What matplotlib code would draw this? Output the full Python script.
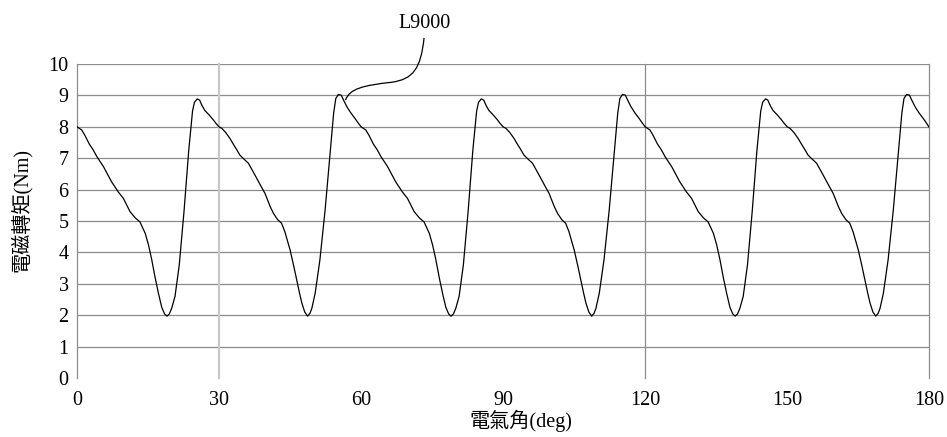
import matplotlib
matplotlib.use("Agg")
import matplotlib.pyplot as plt
from matplotlib.path import Path
from matplotlib.patches import PathPatch

plt.rcParams['font.family'] = ['Liberation Serif', 'Noto Sans CJK TC']

# electrical angle (deg) and torque (Nm)
angle_deg = [
    0.0, 1.0, 1.7, 2.6, 3.4, 4.2, 5.6, 7.3, 8.7, 9.8, 11.2, 12.3, 13.3, 14.4, 15.1, 15.8, 16.5, 17.2,
    17.9, 18.5, 19.0, 19.5, 20.0, 20.7, 21.6, 22.6, 23.6, 24.4, 24.8, 25.4, 25.9, 26.4, 27.0, 27.9, 28.8, 29.4,
    30.0, 30.6, 31.4, 32.3, 33.0, 33.7, 34.4, 35.2, 36.2, 37.6, 38.6, 39.7, 40.8, 41.5, 42.4, 43.2, 43.9, 45.0,
    45.8, 46.4, 47.0, 47.5, 48.1, 48.7, 49.2, 49.6, 50.3, 51.3, 52.4, 53.45, 54.2, 54.65, 55.2, 55.8, 56.3, 57.0,
    57.8, 58.7, 59.4,
    60.0, 61.0, 61.7, 62.6, 63.4, 64.2, 65.6, 67.3, 68.7, 69.8, 71.2, 72.3, 73.3, 74.4, 75.1, 75.8, 76.5, 77.2,
    77.9, 78.5, 79.0, 79.5, 80.0, 80.7, 81.6, 82.6, 83.6, 84.4, 84.8, 85.4, 85.9, 86.4, 87.0, 87.9, 88.8, 89.4,
    90.0, 90.6, 91.4, 92.3, 93.0, 93.7, 94.4, 95.2, 96.2, 97.6, 98.6, 99.7, 100.8, 101.5, 102.4, 103.2, 103.9, 105.0,
    105.8, 106.4, 107.0, 107.5, 108.1, 108.7, 109.2, 109.6, 110.3, 111.3, 112.4, 113.45, 114.2, 114.65, 115.2, 115.8,
    116.3, 117.0, 117.8, 118.7, 119.4,
    120.0, 121.0, 121.7, 122.6, 123.4, 124.2, 125.6, 127.3, 128.7, 129.8, 131.2, 132.3, 133.3, 134.4, 135.1, 135.8,
    136.5, 137.2, 137.9, 138.5, 139.0, 139.5, 140.0, 140.7, 141.6, 142.6, 143.6, 144.4, 144.8, 145.4, 145.9, 146.4,
    147.0, 147.9, 148.8, 149.4,
    150.0, 150.6, 151.4, 152.3, 153.0, 153.7, 154.4, 155.2, 156.2, 157.6, 158.6, 159.7, 160.8, 161.5, 162.4, 163.2,
    163.9, 165.0, 165.8, 166.4, 167.0, 167.5, 168.1, 168.7, 169.2, 169.6, 170.3, 171.3, 172.4, 173.45, 174.2, 174.65,
    175.2, 175.8, 176.3, 177.0, 177.8, 178.7, 179.4, 180.0,
]
torque_nm = [
    8.00, 7.90, 7.72, 7.45, 7.27, 7.05, 6.73, 6.25, 5.93, 5.72, 5.30, 5.10, 4.97, 4.61, 4.24, 3.76, 3.20, 2.70,
    2.25, 2.04, 1.97, 2.04, 2.22, 2.60, 3.60, 5.30, 7.25, 8.50, 8.78, 8.89, 8.85, 8.68, 8.52, 8.38, 8.22, 8.10,
    8.00, 7.95, 7.82, 7.63, 7.45, 7.28, 7.10, 6.98, 6.84, 6.46, 6.18, 5.88, 5.46, 5.24, 5.04, 4.93, 4.66, 4.08,
    3.55, 3.12, 2.70, 2.38, 2.10, 1.97, 2.06, 2.22, 2.70, 3.76, 5.35, 7.16, 8.43, 8.90, 9.03, 9.01, 8.85, 8.64,
    8.45, 8.27, 8.12,
    8.00, 7.90, 7.72, 7.45, 7.27, 7.05, 6.73, 6.25, 5.93, 5.72, 5.30, 5.10, 4.97, 4.61, 4.24, 3.76, 3.20, 2.70,
    2.25, 2.04, 1.97, 2.04, 2.22, 2.60, 3.60, 5.30, 7.25, 8.50, 8.78, 8.89, 8.85, 8.68, 8.52, 8.38, 8.22, 8.10,
    8.00, 7.95, 7.82, 7.63, 7.45, 7.28, 7.10, 6.98, 6.84, 6.46, 6.18, 5.88, 5.46, 5.24, 5.04, 4.93, 4.66, 4.08,
    3.55, 3.12, 2.70, 2.38, 2.10, 1.97, 2.06, 2.22, 2.70, 3.76, 5.35, 7.16, 8.43, 8.90, 9.03, 9.01,
    8.85, 8.64, 8.45, 8.27, 8.12,
    8.00, 7.90, 7.72, 7.45, 7.27, 7.05, 6.73, 6.25, 5.93, 5.72, 5.30, 5.10, 4.97, 4.61, 4.24, 3.76,
    3.20, 2.70, 2.25, 2.04, 1.97, 2.04, 2.22, 2.60, 3.60, 5.30, 7.25, 8.50, 8.78, 8.89, 8.85, 8.68,
    8.52, 8.38, 8.22, 8.10,
    8.00, 7.95, 7.82, 7.63, 7.45, 7.28, 7.10, 6.98, 6.84, 6.46, 6.18, 5.88, 5.46, 5.24, 5.04, 4.93,
    4.66, 4.08, 3.55, 3.12, 2.70, 2.38, 2.10, 1.97, 2.06, 2.22, 2.70, 3.76, 5.35, 7.16, 8.43, 8.90,
    9.03, 9.01, 8.85, 8.64, 8.45, 8.27, 8.12, 7.98,
]

x_ticks = [0, 30, 60, 90, 120, 150, 180]
y_ticks = [0, 1, 2, 3, 4, 5, 6, 7, 8, 9, 10]
# only these vertical grid lines survive in the reference
vgrid_angles = [30, 120, 180]
vgrid_colors = ['#c8c8c8', '#8c8c8c', '#8c8c8c']

series_label = 'L9000'
x_title = '電氣角(deg)'
y_title = '電磁轉矩(Nm)'

fig = plt.figure(figsize=(9.47, 4.37), dpi=100)
ax = fig.add_axes([0.0813, 0.135, 0.9, 0.7185])

ax.plot(angle_deg, torque_nm, color='black', linewidth=0.9, zorder=3)

ax.set_xlim(0, 180)
ax.set_ylim(0, 10)
ax.set_xticks(x_ticks)
ax.set_yticks(y_ticks)
ax.tick_params(length=0, labelsize=14.5, colors='black')
ax.tick_params(axis='x', pad=9)
ax.tick_params(axis='y', pad=6)

for v in y_ticks[1:]:
    ax.axhline(v, color='#8c8c8c', linewidth=0.9, zorder=1)
for v, c in zip(vgrid_angles, vgrid_colors):
    lw = 1.6 if c == '#c8c8c8' else 0.9
    ax.axvline(v, color=c, linewidth=lw, zorder=1, clip_on=False)

for s in ['top', 'right', 'bottom']:
    ax.spines[s].set_visible(False)
ax.spines['left'].set_color('#8c8c8c')
ax.spines['left'].set_linewidth(0.9)

# curved leader line for the series label
verts = [(73.3, 10.83), (72.6, 9.85), (71.0, 9.52), (66.5, 9.42),
         (60.5, 9.32), (57.6, 9.22), (56.7, 8.85)]
codes = [Path.MOVETO, Path.CURVE4, Path.CURVE4, Path.CURVE4,
         Path.CURVE4, Path.CURVE4, Path.CURVE4]
leader = PathPatch(Path(verts, codes), facecolor='none', edgecolor='black',
                   linewidth=0.9, clip_on=False, zorder=4)
ax.add_patch(leader)
ax.text(73.3, 11.0, series_label, ha='center', va='bottom', fontsize=14.5)

fig.text(521 / 947, 1 - 421 / 437, x_title, ha='center', va='center', fontsize=14.5)
fig.text(21 / 947, 1 - 210 / 437, y_title, ha='center', va='center', rotation=90, fontsize=14.5)

fig.savefig('out.png', dpi=100)
